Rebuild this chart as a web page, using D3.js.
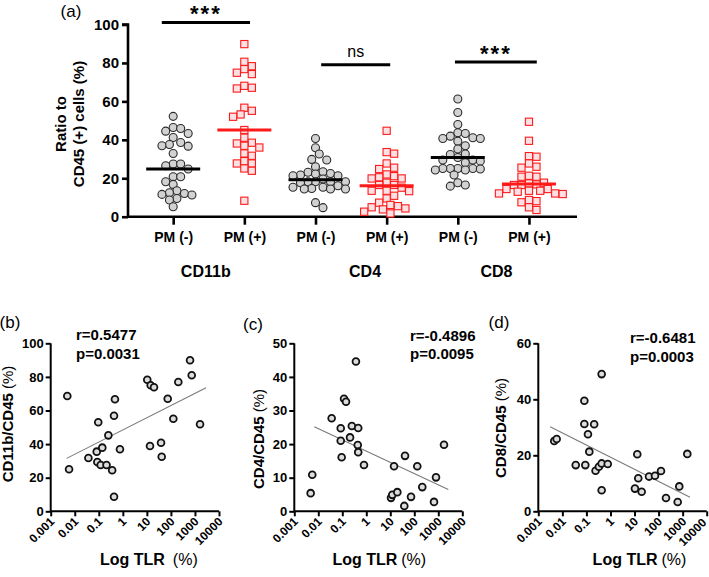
<!DOCTYPE html>
<html><head><meta charset="utf-8">
<script src="https://cdn.jsdelivr.net/npm/d3@7"></script>
<style>body{margin:0;background:#fff} svg{display:block} text{font-family:"Liberation Sans",Arial,Helvetica,sans-serif}</style>
</head><body>
<svg id="chart" width="709" height="577"></svg>
<script>
// ---------- Panel (a) data ----------
const groupLabels = ["PM (-)","PM (+)","PM (-)","PM (+)","PM (-)","PM (+)"];
const markerNames = ["CD11b","CD4","CD8"];
const cd11bNeg = [52.2,46.4,45.9,44.5,43.3,41.2,38.6,37.6,36.9,36.7,32.9,27.4,27.4,26.5,24.8,20.8,20.8,18.2,16.8,13.5,12.5,12.1,11.6,11.3,9.5,8.7,5.2];
const cd11bPos = [89.8,80.6,78.3,76.8,74.9,74.2,68.1,67.1,66.7,56.7,55.1,53.2,52.0,45.1,41.1,38.5,38.1,36.9,36.0,32.9,31.7,28.9,27.7,27.7,25.1,23.9,8.3];
const cd4Neg = [40.7,35.9,32.6,29.8,29.5,26.0,23.4,23.1,22.5,22.2,21.7,21.3,21.3,19.6,18.2,18.2,18.2,18.2,17.7,16.1,15.3,15.3,14.7,14.4,14.4,14.4,7.3,4.7];
const cd4Pos = [44.7,33.6,32.8,27.7,25.5,24.8,22.0,21.1,20.5,19.9,19.9,17.7,16.5,16.5,15.1,13.5,13.5,13.3,10.9,9.5,7.3,6.1,5.5,4.9,4.3,3.8,2.6,1.7];
const cd8Neg = [61.2,54.2,48.0,43.7,43.3,41.9,41.1,40.7,40.7,39.3,36.9,35.2,32.6,32.4,30.8,29.5,29.5,28.9,28.1,25.1,25.1,25.1,25.1,24.8,24.3,24.3,21.7,17.7,16.5,15.9];
const cd8Pos = [49.4,39.5,31.5,31.2,27.7,26.0,25.5,21.3,20.8,20.8,17.7,17.3,16.8,16.5,16.5,14.4,14.4,13.5,13.5,13.0,12.1,12.1,11.8,8.7,8.1,7.5,4.9,3.5];
const centerLines = [24.8,45.1,19.2,16.1,30.8,17.0];
const sigLabels = ["***","ns","***"];
const sigHeights = [101.1,79.1,80.5];
const yTicksA = [0,20,40,60,80,100];

// ---------- Panels (b)-(d) data ----------
const tlrTicks = [0.001,0.01,0.1,1,10,100,1000,10000];
const tlrTickLabels = ["0.001","0.01","0.1","1","10","100","1000","10000"];
const tlrB = [0.0049,0.0058,0.037,0.082,0.087,0.095,0.12,0.14,0.21,0.25,0.36,0.43,0.47,0.43,0.76,10.4,14.4,19.8,13.5,38.8,41.4,73.6,126,203,624,733,1626];
const cd11bB = [68.6,25.0,31.7,35.5,29.3,53.0,27.6,37.9,27.6,45.2,24.4,56.9,66.7,8.7,36.9,78.3,75.0,73.8,38.9,40.8,32.5,67.0,55.1,77.0,89.9,81.0,51.8];
const fitBx = [0.0046, 2900], fitBy = [31.5, 73.6];
const tlrC = [0.0048,0.0056,0.036,0.086,0.086,0.094,0.118,0.143,0.21,0.25,0.37,0.46,0.44,0.46,0.80,10.7,12.1,14.3,19.6,38.3,41,73,133,215,662,802,1728];
const cd4C = [5.4,10.9,27.7,24.7,21.0,16.1,33.5,32.6,22.0,25.4,44.6,24.8,19.7,17.6,13.8,4.0,4.9,13.4,5.7,1.6,16.5,4.3,13.4,7.2,2.8,10.1,19.8];
const fitCx = [0.0068, 2610], fitCy = [25.2, 6.5];
const tlrD = [0.0046,0.0058,0.036,0.082,0.082,0.090,0.116,0.132,0.21,0.24,0.33,0.43,0.43,0.43,0.77,10.4,13.0,14.3,19.8,40,71,126,203,622,725,1560];
const cd8D = [25.1,25.8,16.5,39.5,31.2,16.5,27.5,21.3,31.1,14.5,15.9,17.1,49.0,7.5,16.9,8.1,20.4,11.8,7.0,12.4,12.7,14.4,4.75,3.3,8.9,20.5];
const fitDx = [0.0031, 2020], fitDy = [30.2, 5.0];

// ---------- Drawing ----------
const svg = d3.select("#chart");
const RED = "#ff1a1a";

// Panel (a)
const groups = [cd11bNeg, cd11bPos, cd4Neg, cd4Pos, cd8Neg, cd8Pos];
const xA = d3.scaleLinear().domain([-0.635, 5.675]).range([128, 577]);
const yA = d3.scaleLinear().domain([0, 100]).range([216.7, 24.5]);
const gA = svg.append("g");

const yAxisA = d3.axisLeft(yA).tickValues(yTicksA).tickSize(6).tickPadding(3);
const ya = gA.append("g").attr("transform", `translate(${xA.range()[0]},0)`).call(yAxisA);
ya.select(".domain").attr("stroke","#000").attr("stroke-width",2.6).attr("d",`M-6,${yA(100)}H0V${yA(0)}`);
ya.selectAll(".tick line").attr("stroke","#000").attr("stroke-width",2.6);
ya.selectAll(".tick text").attr("font-size",15).attr("font-weight","bold").attr("fill","#000");

const xAxisA = d3.axisBottom(xA).tickValues(d3.range(6)).tickSize(8).tickFormat(i => groupLabels[i]).tickPadding(7);
const xa = gA.append("g").attr("transform", `translate(0,${yA(0)})`).call(xAxisA);
xa.select(".domain").attr("stroke","#000").attr("stroke-width",2.6).attr("d",`M${xA.range()[0]},0H${xA.range()[1]}`);
xa.selectAll(".tick line").attr("stroke","#000").attr("stroke-width",2.6);
xa.selectAll(".tick text").attr("font-size",14).attr("font-weight","bold").attr("fill","#000");

gA.selectAll(".mk").data(markerNames).join("text")
  .attr("x",(d,i)=>xA(2*i+0.5)+[-3,14,3][i]).attr("y",277)
  .attr("text-anchor","middle").attr("font-size",16).attr("font-weight","bold").text(d=>d);

const yt = gA.append("text").attr("transform","translate(70,124) rotate(-90)")
  .attr("text-anchor","middle").attr("font-size",15).attr("font-weight","bold");
yt.append("tspan").attr("x",0).attr("dy","-0.25em").text("Ratio to");
yt.append("tspan").attr("x",0).attr("dy","1.2em").text("CD45 (+) cells (%)");

svg.append("text").attr("x",71).attr("y",17).attr("text-anchor","middle").attr("font-size",17).text("(a)");

// collision-based swarm with half-step columns (Prism-like)
function swarm(values, y, d){
  const order = values.map((v,i)=>i).sort((a,b)=>values[b]-values[a]);
  const placed = [], off = new Array(values.length).fill(0), h = d/2;
  order.forEach(k=>{
    const py = y(values[k]);
    for (let s=0; s<60; s++){
      const o = s===0 ? 0 : (s%2 ? 1 : -1)*Math.ceil(s/2)*h;
      if (placed.every(p => (p.x-o)**2 + (p.y-py)**2 >= d*d*0.92)) { off[k]=o; placed.push({x:o,y:py}); break; }
    }
  });
  return off;
}

groups.forEach((vals,gi)=>{
  const off = swarm(vals, yA, 7.5);
  const cx = xA(gi);
  const g = gA.append("g");
  if (gi % 2 === 0) {
    g.selectAll("circle").data(vals).join("circle")
      .attr("cx",(d,i)=>cx+off[i]).attr("cy",d=>yA(d)).attr("r",4)
      .attr("fill","#d2d2d2").attr("stroke","#2a2a2a").attr("stroke-width",1.1);
  } else {
    g.selectAll("rect").data(vals).join("rect")
      .attr("x",(d,i)=>cx+off[i]-3.6).attr("y",d=>yA(d)-3.6).attr("width",7.2).attr("height",7.2)
      .attr("fill","#fbe1e3").attr("stroke",RED).attr("stroke-width",1.1);
  }
});
gA.selectAll(".cl").data(centerLines).join("line")
  .attr("x1",(d,i)=>xA(i)-27).attr("x2",(d,i)=>xA(i)+27)
  .attr("y1",d=>yA(d)).attr("y2",d=>yA(d))
  .attr("stroke",(d,i)=>i%2?RED:"#000").attr("stroke-width",3);

const sigSpan = [[-0.16,1.08],[0.08,1.05],[-0.04,1.11]];
sigLabels.forEach((lab,i)=>{
  const a = 2*i + sigSpan[i][0], b = 2*i + sigSpan[i][1];
  gA.append("line").attr("x1",xA(a)).attr("x2",xA(b)).attr("y1",yA(sigHeights[i])).attr("y2",yA(sigHeights[i]))
    .attr("stroke","#000").attr("stroke-width",3);
  const t = gA.append("text").attr("x",(xA(a)+xA(b))/2).attr("text-anchor","middle");
  if (lab === "ns") t.attr("y",yA(sigHeights[i])-8).attr("font-size",16).text(lab);
  else t.attr("y",yA(sigHeights[i])-1).attr("font-size",22).attr("font-weight","bold").attr("letter-spacing",2).text(lab);
});

// ---------- scatter panels ----------
function scatterPanel(o){
  const x = d3.scaleLog().domain([0.001,10000]).range(o.xr);
  const y = d3.scaleLinear().domain([0,o.ymax]).range([511.3,343.3]);
  const g = svg.append("g");
  const ya = g.append("g").attr("transform",`translate(${o.xr[0]},0)`)
    .call(d3.axisLeft(y).tickValues(d3.range(0,o.ymax+0.1,o.ystep)).tickSize(5).tickPadding(2));
  ya.select(".domain").attr("d",`M0,${y(o.ymax)}V${y(0)}`).attr("stroke","#000").attr("stroke-width",2);
  ya.selectAll(".tick line").attr("stroke","#000").attr("stroke-width",2);
  ya.selectAll(".tick text").attr("font-size",13).attr("font-weight","bold").attr("fill","#000");
  const xa = g.append("g").attr("transform",`translate(0,${y(0)})`)
    .call(d3.axisBottom(x).tickValues(tlrTicks).tickSize(5).tickFormat((d,i)=>tlrTickLabels[i]));
  xa.select(".domain").attr("d",`M${o.xr[0]},0H${o.xr[1]}`).attr("stroke","#000").attr("stroke-width",2);
  xa.selectAll(".tick line").attr("stroke","#000").attr("stroke-width",2);
  const n = tlrTicks.length;
  xa.selectAll(".tick text").attr("font-size",12).attr("font-weight","bold").attr("fill","#000")
    .attr("text-anchor","end")
    .attr("transform",(d,i)=> (o.lastShift && i===n-1) ? "translate(-3,9) rotate(-45)" : "translate(1,8) rotate(-45)")
    .attr("dy","0.35em").attr("y",0).attr("x",0);
  g.append("line").attr("x1",x(o.fx[0])).attr("x2",x(o.fx[1])).attr("y1",y(o.fy[0])).attr("y2",y(o.fy[1]))
    .attr("stroke","#7a7a7a").attr("stroke-width",1.1);
  g.selectAll("circle").data(o.ys).join("circle")
    .attr("cx",(d,i)=>x(o.xs[i])).attr("cy",d=>y(d)).attr("r",3.4)
    .attr("fill","#dcdcdc").attr("stroke","#111").attr("stroke-width",1.8);
  const t = g.append("text").attr("transform",`translate(${o.ytx},${o.yty}) rotate(-90)`)
    .attr("text-anchor","middle").attr("dy","0.35em").attr("font-size",15);
  t.append("tspan").attr("font-weight","bold").text(o.ytitle);
  t.append("tspan").text(" (%)");
  const xt = g.append("text").attr("x",(o.xr[0]+o.xr[1])/2+o.xtOff).attr("y",565).attr("text-anchor","middle").attr("font-size",16);
  xt.append("tspan").attr("font-weight","bold").text("Log TLR");
  xt.append("tspan").attr("dx",o.xtGap).text("(%)");
  g.append("text").attr("x",o.lx).attr("y",o.ly).attr("text-anchor","middle").attr("dy","0.35em").attr("font-size",17).text(o.label);
  g.append("text").attr("x",o.rx).attr("y",o.ry).attr("font-size",15).attr("font-weight","bold").text(o.r);
  g.append("text").attr("x",o.rx).attr("y",o.ry+18.5).attr("font-size",15).attr("font-weight","bold").text(o.p);
}

scatterPanel({xr:[50.7,219], ymax:100, ystep:20, xs:tlrB, ys:cd11bB, fx:fitBx, fy:fitBy,
  ytitle:"CD11b/CD45", ytx:8, yty:424, xtOff:14, xtGap:8, label:"(b)", lx:10, ly:322,
  r:"r=0.5477", p:"p=0.0031", rx:76, ry:340});
scatterPanel({xr:[294.3,462.3], ymax:50, ystep:10, xs:tlrC, ys:cd4C, fx:fitCx, fy:fitCy,
  ytitle:"CD4/CD45", ytx:259, yty:439, xtOff:1, xtGap:4, label:"(c)", lx:253, ly:324,
  r:"r=-0.4896", p:"p=0.0095", rx:410, ry:340.5});
scatterPanel({xr:[538.3,706.7], ymax:60, ystep:20, xs:tlrD, ys:cd8D, fx:fitDx, fy:fitDy,
  ytitle:"CD8/CD45", ytx:501, yty:428, xtOff:17, xtGap:4, label:"(d)", lx:499, ly:322,
  r:"r=-0.6481", p:"p=0.0003", rx:630, ry:343, lastShift:true});
</script>
</body></html>
